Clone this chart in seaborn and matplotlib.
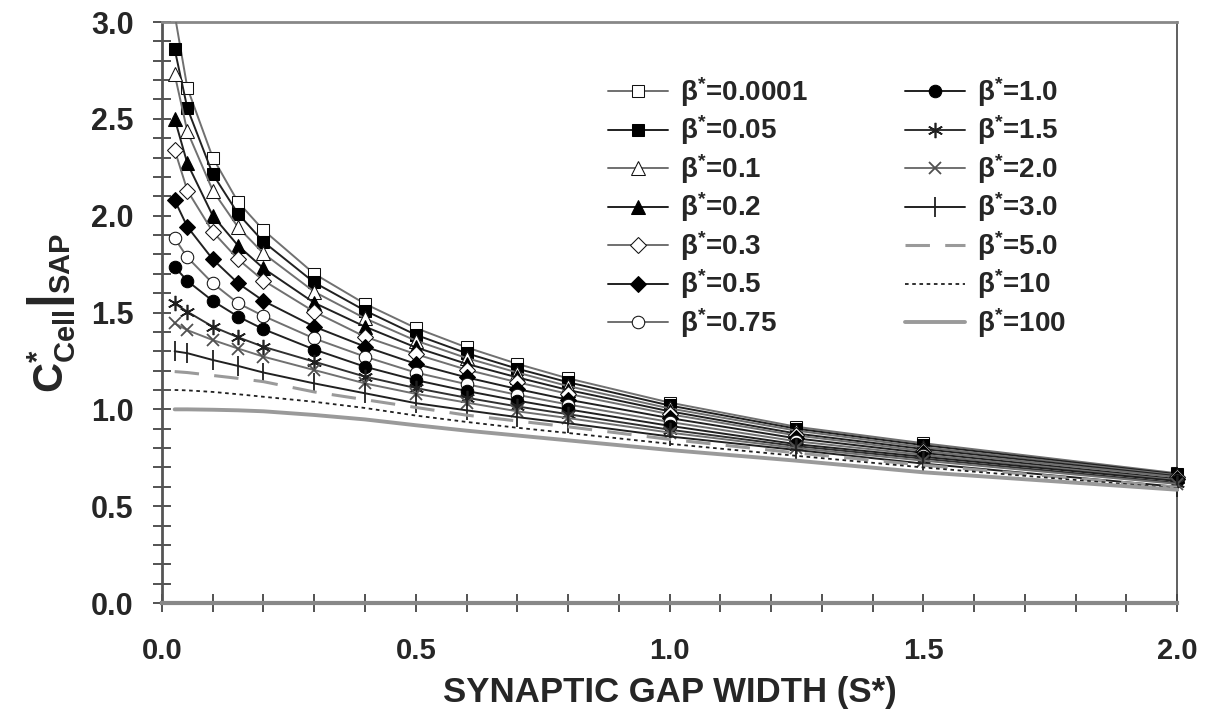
import numpy as np
import pandas as pd
import matplotlib
matplotlib.use("Agg")
import matplotlib.pyplot as plt
import seaborn as sns
from matplotlib.ticker import MultipleLocator, FormatStrFormatter

# synaptic gap width S* (marker positions)
gap_width = [0.025, 0.05, 0.1, 0.15, 0.2, 0.3, 0.4, 0.5, 0.6, 0.7, 0.8, 1.0, 1.25, 1.5, 2.0]

beta_labels = ["0.0001", "0.05", "0.1", "0.2", "0.3", "0.5", "0.75",
               "1.0", "1.5", "2.0", "3.0", "5.0", "10", "100"]

# C*_Cell|SAP, one list per beta*
c_b0001 = [3.04, 2.66, 2.30, 2.07, 1.925, 1.70, 1.545, 1.42, 1.32, 1.235, 1.16, 1.035, 0.91, 0.825, 0.67]
c_b005 = [2.86, 2.555, 2.215, 2.01, 1.865, 1.655, 1.51, 1.385, 1.29, 1.21, 1.14, 1.02, 0.90, 0.815, 0.665]
c_b01 = [2.73, 2.435, 2.13, 1.94, 1.805, 1.607, 1.47, 1.355, 1.265, 1.19, 1.12, 1.005, 0.89, 0.805, 0.66]
c_b02 = [2.50, 2.27, 2.00, 1.845, 1.728, 1.55, 1.427, 1.32, 1.235, 1.165, 1.10, 0.99, 0.875, 0.795, 0.655]
c_b03 = [2.34, 2.13, 1.917, 1.775, 1.665, 1.504, 1.375, 1.285, 1.205, 1.14, 1.08, 0.975, 0.865, 0.785, 0.65]
c_b05 = [2.08, 1.943, 1.775, 1.651, 1.56, 1.427, 1.324, 1.235, 1.165, 1.105, 1.05, 0.955, 0.85, 0.775, 0.64]
c_b075 = [1.883, 1.785, 1.651, 1.548, 1.482, 1.366, 1.272, 1.19, 1.13, 1.075, 1.025, 0.935, 0.835, 0.765, 0.635]
c_b1 = [1.736, 1.663, 1.56, 1.479, 1.414, 1.309, 1.22, 1.151, 1.095, 1.045, 1.0, 0.915, 0.82, 0.755, 0.63]
c_b15 = [1.547, 1.504, 1.427, 1.372, 1.323, 1.246, 1.169, 1.11, 1.06, 1.015, 0.975, 0.895, 0.81, 0.745, 0.62]
c_b2 = [1.444, 1.409, 1.358, 1.314, 1.272, 1.203, 1.134, 1.08, 1.035, 0.99, 0.955, 0.88, 0.80, 0.735, 0.615]
c_b3 = [1.30, 1.29, 1.255, 1.224, 1.19, 1.134, 1.083, 1.032, 0.995, 0.96, 0.928, 0.86, 0.79, 0.72, 0.60]
c_b5 = [1.195, 1.19, 1.175, 1.16, 1.143, 1.09, 1.05, 1.01, 0.97, 0.94, 0.91, 0.845, 0.775, 0.712, 0.598]
c_b10 = [1.10, 1.098, 1.09, 1.078, 1.065, 1.039, 1.007, 0.968, 0.935, 0.905, 0.878, 0.822, 0.76, 0.70, 0.592]
c_b100 = [1.0, 1.0, 0.998, 0.995, 0.99, 0.971, 0.948, 0.918, 0.89, 0.865, 0.84, 0.79, 0.735, 0.675, 0.585]

series = [c_b0001, c_b005, c_b01, c_b02, c_b03, c_b05, c_b075,
          c_b1, c_b15, c_b2, c_b3, c_b5, c_b10, c_b100]

GRAY = "#707070"
DARK = "#202020"
# line/marker style per curve
styles = [
    dict(color=GRAY, marker="s", markerfacecolor="white", markeredgecolor="#111", markersize=9),
    dict(color=DARK, marker="s", markerfacecolor="black", markeredgecolor="black", markersize=8),
    dict(color=GRAY, marker="^", markerfacecolor="white", markeredgecolor="#111", markersize=10),
    dict(color=DARK, marker="^", markerfacecolor="black", markeredgecolor="black", markersize=10),
    dict(color=GRAY, marker="D", markerfacecolor="white", markeredgecolor="#111", markersize=8),
    dict(color=DARK, marker="D", markerfacecolor="black", markeredgecolor="black", markersize=8),
    dict(color=GRAY, marker="o", markerfacecolor="white", markeredgecolor="#111", markersize=9),
    dict(color=DARK, marker="o", markerfacecolor="black", markeredgecolor="black", markersize=9),
    dict(color="#303030", marker=(6, 2, 0), markeredgecolor="#202020", markersize=11, markeredgewidth=1.2),
    dict(color=GRAY, marker="x", markeredgecolor="#505050", markersize=9, markeredgewidth=1.3),
    dict(color=DARK, marker="|", markeredgecolor="#202020", markersize=14, markeredgewidth=1.3),
    dict(color="#9a9a9a", linestyle=(0, (8, 5)), linewidth=2.2),
    dict(color=DARK, linestyle=(0, (2, 2)), linewidth=1.3),
    dict(color="#9a9a9a", linewidth=2.8),
]

sns.set_style("ticks")
plt.rcParams["font.family"] = ["Liberation Sans", "DejaVu Sans"]
plt.rcParams["font.weight"] = "bold"
plt.rcParams["mathtext.fontset"] = "custom"
plt.rcParams["mathtext.rm"] = "Liberation Sans:bold"
plt.rcParams["mathtext.bf"] = "Liberation Sans:bold"
plt.rcParams["mathtext.it"] = "Liberation Sans:bold"

fig = plt.figure(figsize=(12.16, 7.22), dpi=100)
ax = fig.add_axes([0.1332, 0.1648, 0.8348, 0.8047])

for i, (lab, vals, st) in enumerate(zip(beta_labels, series, styles)):
    kw = dict(linewidth=1.4)
    kw.update(st)
    sns.lineplot(x=gap_width, y=vals, ax=ax, label="β$^{*}$=" + lab,
                 clip_on=(i == 0), zorder=3 + i * 0.01, **kw)

ax.set_xlim(0, 2.0)
ax.set_ylim(0, 3.0)
ax.xaxis.set_major_locator(MultipleLocator(0.5))
ax.xaxis.set_minor_locator(MultipleLocator(0.1))
ax.yaxis.set_major_locator(MultipleLocator(0.5))
ax.yaxis.set_minor_locator(MultipleLocator(0.1))
ax.xaxis.set_major_formatter(FormatStrFormatter("%.1f"))
ax.yaxis.set_major_formatter(FormatStrFormatter("%.1f"))

ax.tick_params(which="both", direction="inout", length=13, width=1.3,
               color="#444444", top=False, right=False)
ax.tick_params(axis="x", which="major", labelsize=21, pad=18)
ax.tick_params(axis="y", which="major", labelsize=22, pad=14)
for t in ax.get_xticklabels() + ax.get_yticklabels():
    t.set_fontweight("bold")

ax.spines["left"].set_color("#555555")
ax.spines["left"].set_linewidth(2)
ax.spines["bottom"].set_color("#888888")
ax.spines["bottom"].set_linewidth(3)
ax.spines["top"].set_color("#888888")
ax.spines["top"].set_linewidth(2)
ax.spines["right"].set_color("#444444")
ax.spines["right"].set_linewidth(1.2)

ax.set_xlabel("SYNAPTIC GAP WIDTH (S*)", fontsize=25, fontweight="bold", labelpad=8)
ax.set_ylabel(r"$\left.\mathbf{C}^{\mathbf{*}}_{\mathbf{Cell}}\right|_{\mathbf{SAP}}$",
              fontsize=30, labelpad=10)

ax.legend(ncol=2, loc="upper left", bbox_to_anchor=(0.5, 0.896),
          bbox_transform=fig.transFigure, frameon=False,
          prop={"size": 20, "weight": "bold"}, handlelength=2.16,
          handletextpad=0.43, columnspacing=3.5, labelspacing=0.17,
          borderpad=0, borderaxespad=0)

fig.savefig("out.png", dpi=100, facecolor="white")
